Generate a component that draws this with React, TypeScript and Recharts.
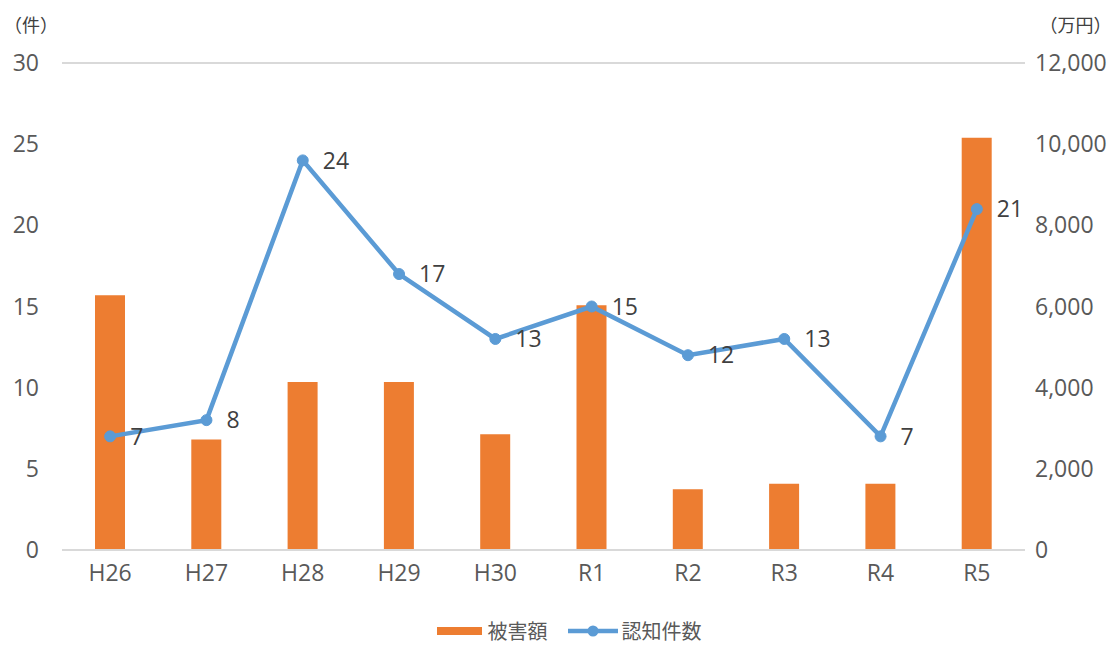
import {
  ComposedChart,
  Bar,
  Line,
  XAxis,
  YAxis,
  CartesianGrid,
  Legend,
  LabelList,
} from "recharts";

const years = ["H26", "H27", "H28", "H29", "H30", "R1", "R2", "R3", "R4", "R5"];
const damage = [6280, 2720, 4140, 4140, 2850, 6030, 1500, 1630, 1630, 10160];
const cases = [7, 8, 24, 17, 13, 15, 12, 13, 7, 21];
const leftTicks = [0, 5, 10, 15, 20, 25, 30];
const rightTicks = [0, 2000, 4000, 6000, 8000, 10000, 12000];

const data = years.map((year, i) => ({
  year,
  damage: damage[i],
  cases: cases[i],
}));

const FONT = '"Open Sans", "Noto Sans CJK JP", sans-serif';
const JP_FONT = '"Noto Sans CJK JP", sans-serif';
const ORANGE = "#ED7D31";
const BLUE = "#5B9BD5";
const TICK = { fill: "#595959", fontSize: 23, fontFamily: FONT };

function LegendContent() {
  return (
    <div
      style={{
        display: "flex",
        justifyContent: "center",
        alignItems: "center",
        fontFamily: JP_FONT,
        fontSize: 20,
        lineHeight: "20px",
        height: 20,
        color: "#595959",
        gap: 20,
        paddingLeft: 24,
      }}
    >
      <span style={{ display: "flex", alignItems: "center", gap: 6 }}>
        <span style={{ width: 45, height: 8, background: ORANGE, display: "inline-block" }} />
        被害額
      </span>
      <span style={{ display: "flex", alignItems: "center", gap: 4 }}>
        <svg width={50} height={14}>
          <line x1={0} y1={7} x2={50} y2={7} stroke={BLUE} strokeWidth={4.5} />
          <circle cx={25} cy={7} r={5.5} fill={BLUE} />
        </svg>
        認知件数
      </span>
    </div>
  );
}

export default function App() {
  return (
    <div style={{ position: "absolute", left: 0, top: 0, background: "#fff" }}>
      <ComposedChart
        width={1114}
        height={646}
        data={data}
        margin={{ top: 63, right: 0, left: 0, bottom: 5 }}
      >
        <CartesianGrid vertical={false} stroke="#d9d9d9" strokeWidth={2} />
        <XAxis
          dataKey="year"
          tick={TICK}
          tickLine={false}
          axisLine={{ stroke: "#d9d9d9", strokeWidth: 2 }}
          tickMargin={9}
          height={71}
        />
        <YAxis
          yAxisId="left"
          domain={[0, 30]}
          ticks={leftTicks}
          tick={TICK}
          tickLine={false}
          axisLine={false}
          width={62}
          tickMargin={17}
          label={{
            value: "（件）",
            position: "top",
            offset: 31,
            fill: "#404040",
            fontSize: 18,
            fontFamily: JP_FONT,
          }}
        />
        <YAxis
          yAxisId="right"
          orientation="right"
          domain={[0, 12000]}
          ticks={rightTicks}
          tick={{ ...TICK, textAnchor: "start" }}
          tickFormatter={(v: number) => v.toLocaleString("en-US")}
          tickLine={false}
          axisLine={false}
          width={89}
          tickMargin={4}
          label={{
            value: "（万円）",
            position: "top",
            offset: 31,
            dx: 6,
            fill: "#404040",
            fontSize: 18,
            fontFamily: JP_FONT,
          }}
        />
        <Bar
          yAxisId="right"
          dataKey="damage"
          name="被害額"
          fill={ORANGE}
          barSize={30}
          isAnimationActive={false}
        />
        <Line
          yAxisId="left"
          dataKey="cases"
          name="認知件数"
          type="linear"
          stroke={BLUE}
          strokeWidth={4.5}
          dot={{ r: 5.5, fill: BLUE, stroke: BLUE, strokeWidth: 1 }}
          isAnimationActive={false}
        >
          <LabelList
            dataKey="cases"
            position="right"
            offset={20}
            fill="#404040"
            fontSize={23}
            fontFamily={FONT}
          />
        </Line>
        <Legend verticalAlign="bottom" height={20} content={<LegendContent />} />
      </ComposedChart>
    </div>
  );
}
